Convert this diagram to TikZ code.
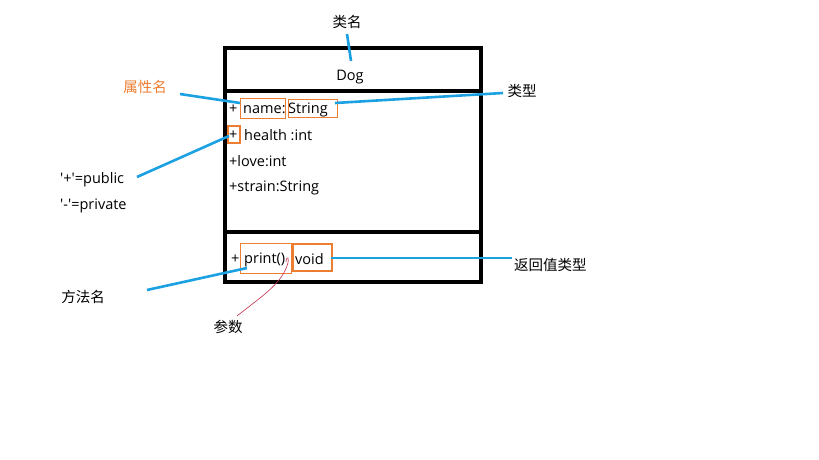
\documentclass[tikz,border=0pt]{standalone}
\usepackage{fontspec}
\newfontfamily\lat{Open Sans}
\newfontfamily\cjk{Noto Sans CJK SC}
\definecolor{cyanline}{HTML}{1BA1E2}
\definecolor{orangebox}{HTML}{ED7D31}
\definecolor{redcurve}{HTML}{C0304A}
\begin{document}
\begin{tikzpicture}[x=1pt,y=-1pt,
  txt/.style={inner sep=0pt,yshift=-1.5pt,font=\lat\fontsize{14.5}{16}\selectfont,text=black},
  cn/.style={inner sep=0pt,font=\cjk\fontsize{14.5}{16}\selectfont,text=black},
  umlbox/.style={draw=black,line width=4pt},
  link/.style={draw=cyanline,line width=2.6pt},
  thinbox/.style={draw=orangebox,line width=0.8pt},
  thickbox/.style={draw=orangebox,line width=2.6pt}]
\useasboundingbox (0,0) rectangle (819,460);
% UML box
\draw[umlbox] (225,48) rectangle (481,282);
\draw[umlbox] (225,91) -- (481,91);
\draw[umlbox] (225,232) -- (481,232);
% text in box
\node[txt] (dog) at (350,76) {Dog};
\node[txt,anchor=west] (plus1) at (229,108) {+};
\node[txt,anchor=west] (name) at (243,108) {name:};
\node[txt,anchor=west] (string) at (288,108) {String};
\node[txt,anchor=west] (plus2) at (229,134) {+};
\node[txt,anchor=west] (health) at (244,134) {health :int};
\node[txt,anchor=west] (love) at (229,160) {+love:int};
\node[txt,anchor=west] (strain) at (229,186) {+strain:String};
\node[txt,anchor=west] (plus3) at (231,258) {+};
\node[txt,anchor=west] (print) at (244,258) {print()};
\node[txt,anchor=west] (void) at (295,258) {void};
% orange boxes
\draw[thinbox] (240,98) rectangle (285,118);
\draw[thinbox] (288,99) rectangle (337,117);
\draw[thickbox] (228,126) rectangle (240,143);
\draw[thinbox] (240,243) rectangle (291,273);
\draw[thickbox] (293,244) rectangle (332,271);
% labels
\node[cn] (leiming) at (347,22) {类名};
\node[cn,text=orangebox] (shuxing) at (145,87) {属性名};
\node[cn] (leixing) at (522,91) {类型};
\node[txt,anchor=west] (public) at (60,178) {'+'=public};
\node[txt,anchor=west] (private) at (60,204) {'-'=private};
\node[cn] (fangfa) at (83,297) {方法名};
\node[cn] (canshu) at (228,327) {参数};
\node[cn,anchor=west] (fanhui) at (514,265) {返回值类型};
% connectors
\coordinate (c1) at (351,61);
\draw[link] (347,34) -- (c1);
\coordinate (c2) at (240,103);
\draw[link] (180,94) -- (c2);
\draw[link] (335,103) -- (503,93);
\draw[link] (137,177) -- (229,136);
\draw[link] (147,290) -- (247,268);
\draw[link] (331,258) -- (512,258);
\draw[redcurve,line width=0.6pt] (237,316) .. controls (262,296) and (280,285) .. (287,266)
   .. controls (290,258) and (287,254) .. (286,262);
\end{tikzpicture}
\end{document}
